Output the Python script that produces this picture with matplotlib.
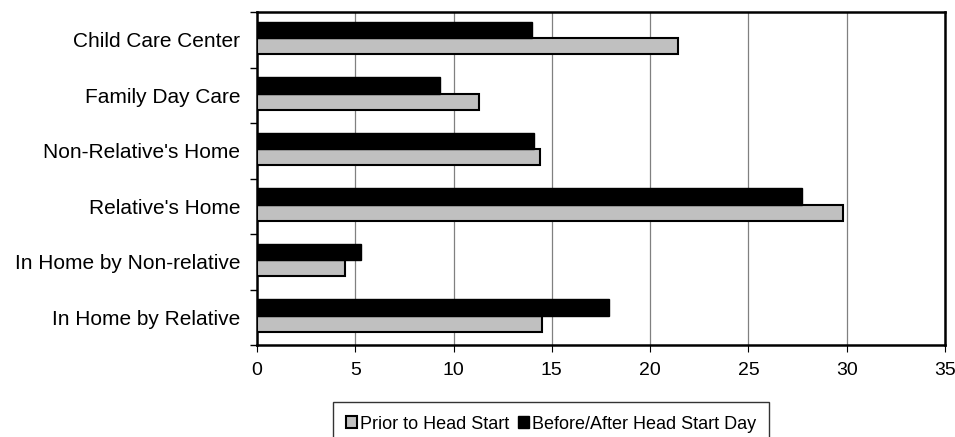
import numpy as np
from matplotlib import pyplot as plt

categories = ["Child Care Center", "Family Day Care", "Non-Relative's Home",
              "Relative's Home", "In Home by Non-relative", "In Home by Relative"]
prior = [21.4, 11.3, 14.4, 29.8, 4.5, 14.5]
before_after = [14.0, 9.3, 14.1, 27.7, 5.3, 17.9]

plt.rcParams['font.family'] = ['Liberation Sans', 'DejaVu Sans']

fig = plt.figure(figsize=(9.55, 4.37), dpi=100)
ax = fig.add_axes([257 / 955, 1 - 345 / 437, 688 / 955, 333 / 437])

y = np.arange(len(categories))[::-1]
h = 0.29
ax.barh(y - h / 2 + 0.03, prior, height=h, color="#c0c0c0", edgecolor="black",
        linewidth=1.5, label="Prior to Head Start", zorder=3)
ax.barh(y + h / 2 + 0.03, before_after, height=h, color="black", edgecolor="black",
        linewidth=1.0, label="Before/After Head Start Day", zorder=3)

ax.set_xlim(0, 35)
ax.set_ylim(-0.5, len(categories) - 0.5)
ax.set_xticks(np.arange(0, 36, 5))
ax.set_yticks(y)
ax.set_yticklabels(categories, fontsize=15)
ax.set_yticks(np.arange(-0.5, len(categories), 1), minor=True)
ax.tick_params(axis='y', which='major', length=0, pad=12)
ax.tick_params(axis='y', which='minor', length=5, direction='out', width=1)
ax.tick_params(axis='x', length=5, direction='out', pad=7, labelsize=14)
ax.grid(axis='x', color="#808080", linewidth=0.9, zorder=0)
for s in ax.spines.values():
    s.set_linewidth(1.8)

# legend box runs past the bottom edge like in the original export
leg = fig.legend(loc="upper center", bbox_to_anchor=(551 / 955, 1 - 402 / 437), ncol=2,
                 frameon=True, fancybox=False, edgecolor="black", handlelength=0.6,
                 handleheight=0.6, handletextpad=0.15, columnspacing=0.5,
                 borderpad=0.75, borderaxespad=0, fontsize=13)
leg.get_frame().set_linewidth(1.0)

fig.savefig("out.png", dpi=100)
